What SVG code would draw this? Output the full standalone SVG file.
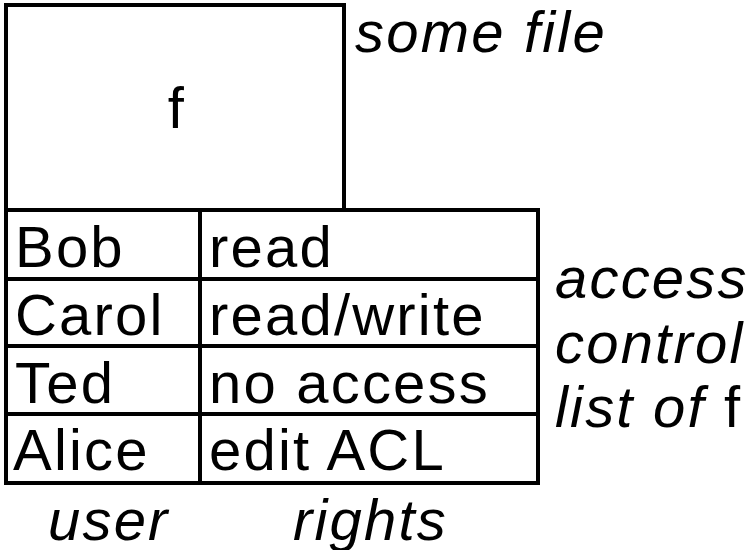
<svg xmlns="http://www.w3.org/2000/svg" width="750" height="550" viewBox="0 0 750 550">
<style>
.ln{fill:none;stroke:#000;stroke-width:4}
.t{font-family:"Liberation Sans",Arial,sans-serif;font-size:58px;fill:#000;letter-spacing:2.2px}
.i{font-style:italic}
</style>
<rect width="750" height="550" fill="#fff"/>
<g id="file">
<rect class="ln" x="6" y="5" width="338" height="205"/>
<text class="t" x="177" y="128" text-anchor="middle">f</text>
</g>
<g id="file-label"><text class="t i" x="355" y="52">some file</text></g>
<g id="acl">
<rect class="ln" x="6" y="210" width="532" height="273"/>
<line class="ln" x1="200" y1="210" x2="200" y2="483"/>
<line class="ln" x1="6" y1="279" x2="538" y2="279"/>
<line class="ln" x1="6" y1="346" x2="538" y2="346"/>
<line class="ln" x1="6" y1="414" x2="538" y2="414"/>
</g>
<g id="row-bob"><text class="t" x="15" y="267">Bob</text><text class="t" x="209" y="267">read</text></g>
<g id="row-carol"><text class="t" x="15" y="335">Carol</text><text class="t" x="209" y="335">read/write</text></g>
<g id="row-ted"><text class="t" x="15" y="403">Ted</text><text class="t" x="209" y="403">no access</text></g>
<g id="row-alice"><text class="t" x="13" y="470">Alice</text><text class="t" x="209" y="470">edit ACL</text></g>
<g id="acl-label">
<text class="t i" x="555" y="298">access</text>
<text class="t i" x="555" y="363">control</text>
<text class="t" x="555" y="427"><tspan class="i">list of </tspan>f</text>
</g>
<g id="col-labels">
<text class="t i" x="48" y="540">user</text>
<text class="t i" x="293" y="540">rights</text>
</g>
</svg>
